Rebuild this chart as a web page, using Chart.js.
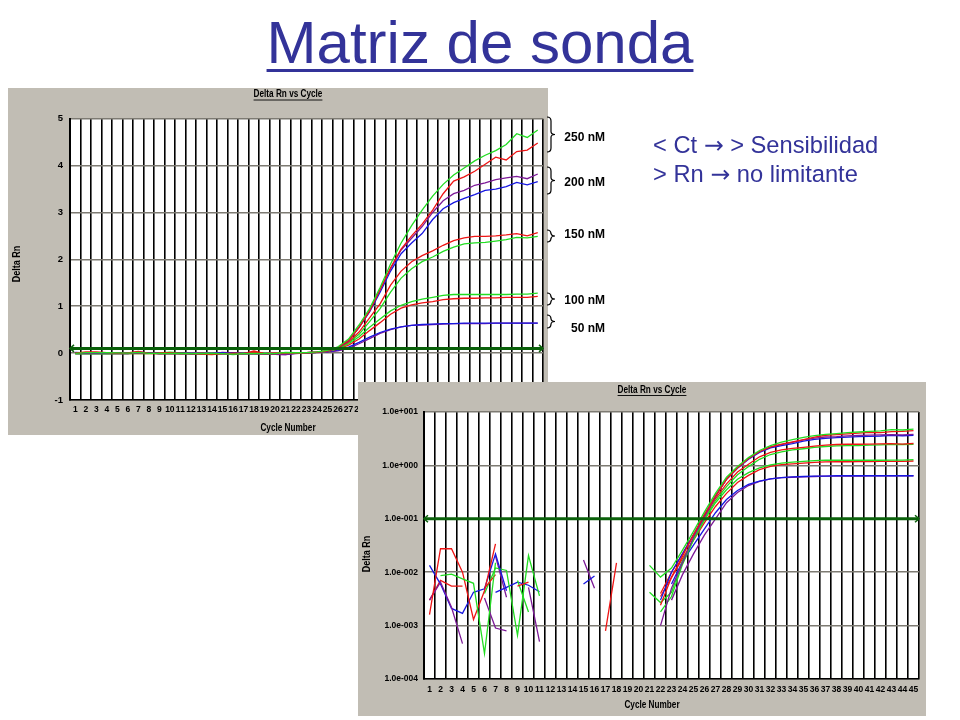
<!DOCTYPE html>
<html>
<head>
<meta charset="utf-8">
<title>Matriz de sonda</title>
<script src="https://cdn.jsdelivr.net/npm/chart.js@4.4.1/dist/chart.umd.min.js"></script>
<style>
  html, body { margin: 0; padding: 0; background: #fff; }
  #slide { position: relative; width: 960px; height: 720px; overflow: hidden; font-family: 'Liberation Sans', Arial, sans-serif; }
  h1 { position: absolute; left: 0; top: 13px; width: 960px; margin: 0; text-align: center;
       font-size: 60px; line-height: 60px; font-weight: normal; color: #333399;
       text-decoration: underline; text-decoration-thickness: 3px; text-underline-offset: 6px; }
  .panel { position: absolute; background: #c1bdb4; }
  .panel canvas { display: block; }
  .note { position: absolute; left: 653px; top: 131px; font-size: 23.7px; line-height: 29px; color: #333399; white-space: nowrap; }
  .note .arr { font-family: 'DejaVu Sans', sans-serif; }
  .conc { position: absolute; left: 545px; width: 60px; text-align: right; font: bold 12px 'Liberation Sans', Arial, sans-serif; line-height: 14px; color: #000; }
  #braces { position: absolute; left: 0; top: 0; }
</style>
</head>
<body>
<div id="slide">
  <h1>Matriz de sonda</h1>

  <div class="panel" style="left:8px; top:88px; width:540px; height:347px;">
    <canvas id="linChart" width="540" height="347"></canvas>
  </div>

  <svg id="braces" width="960" height="400"></svg>
  <div id="concLabels"></div>

  <div class="note">&lt; Ct <span class="arr">&rarr;</span> &gt; Sensibilidad<br>&gt; Rn <span class="arr">&rarr;</span> no limitante</div>

  <div class="panel" style="left:358px; top:382px; width:568px; height:334px;">
    <canvas id="logChart" width="568" height="334"></canvas>
  </div>
</div>

<script>
// ciclos (eje X)
const cycles = ['1','2','3','4','5','6','7','8','9','10','11','12','13','14','15','16','17','18','19','20',
  '21','22','23','24','25','26','27','28','29','30','31','32','33','34','35','36','37','38','39','40',
  '41','42','43','44','45'];

// Delta Rn por ciclo, dos réplicas por concentración de sonda
const green250 = [-0.006, 0.0086, 0.0092, 0.0075, 0.0062, 0.0003, 0.015, -0.004, -0.008, -0.01,
  -0.006, -0.01, -0.012, -0.008, -0.01, -0.02, -0.012, -0.008, -0.01, -0.012,
  0.0134, 0.0081, 0.012, 0.026, 0.058, 0.135, 0.3, 0.6, 0.95, 1.4,
  1.9, 2.35, 2.72, 3.05, 3.35, 3.6, 3.8, 3.95, 4.1, 4.22,
  4.32, 4.45, 4.68, 4.6, 4.76];
const red250 = [0.0016, 0.0275, 0.0275, 0.01, 0.0013, 0.0045, 0.034, -0.005, -0.008, -0.01,
  -0.006, -0.012, -0.02, -0.03, -0.01, -0.008, -0.01, -0.006, -0.01, -0.008,
  -0.006, 0.0024, 0.008, 0.02, 0.05, 0.12, 0.27, 0.55, 0.9, 1.35,
  1.82, 2.22, 2.5, 2.75, 3.05, 3.4, 3.67, 3.76, 3.88, 4.03,
  4.18, 4.12, 4.3, 4.33, 4.48];
const purple200 = [0.003, 0.0065, 0.0022, 0.00046, -0.004, 0.0033, 0.0009, 0.0008, -0.008, -0.01,
  -0.006, -0.008, -0.01, -0.012, -0.01, -0.008, -0.01, -0.012, -0.02, -0.025,
  -0.03, 0.001, 0.005, 0.015, 0.045, 0.11, 0.26, 0.55, 0.9, 1.35,
  1.8, 2.2, 2.45, 2.7, 3.0, 3.25, 3.4, 3.47, 3.58, 3.63,
  3.7, 3.74, 3.77, 3.72, 3.82];
const blue200 = [0.0134, 0.006, 0.0021, 0.0017, 0.0042, 0.0049, 0.022, 0.0045, -0.008, -0.01,
  -0.006, -0.008, -0.01, -0.008, -0.012, -0.01, -0.008, -0.01, -0.012, -0.01,
  -0.008, 0.003, 0.01, 0.022, 0.05, 0.12, 0.27, 0.55, 0.88, 1.3,
  1.75, 2.12, 2.35, 2.55, 2.85, 3.08, 3.21, 3.3, 3.38, 3.47,
  3.5, 3.55, 3.64, 3.59, 3.66];
const red150 = [0.003, 0.007, 0.0055, 0.0055, -0.004, 0.005, 0.009, -0.006, 0.0055, 0.0065,
  -0.008, -0.01, -0.008, -0.012, -0.01, -0.008, -0.01, 0.045, -0.01, -0.008,
  -0.006, 0.004, 0.01, 0.022, 0.05, 0.11, 0.24, 0.45, 0.75, 1.05,
  1.45, 1.75, 1.95, 2.08, 2.18, 2.3, 2.4, 2.46, 2.49, 2.49,
  2.5, 2.52, 2.55, 2.5, 2.57];
const green150 = [-0.01, -0.008, -0.005, -0.012, -0.006, 0.004, 0.012, 0.0108, 0.00066, 0.0205,
  0.0036, -0.008, -0.01, -0.012, -0.01, -0.03, -0.015, -0.01, -0.008, -0.012,
  0.0042, 0.0027, 0.0042, 0.016, 0.042, 0.1, 0.22, 0.4, 0.67, 0.95,
  1.3, 1.6, 1.8, 1.95, 2.05, 2.17, 2.26, 2.33, 2.35, 2.36,
  2.39, 2.42, 2.47, 2.46, 2.49];
const green100 = [-0.012, -0.01, -0.008, -0.006, -0.01, -0.008, -0.012, -0.01, 0.007, 0.0018,
  -0.01, -0.012, -0.008, -0.01, -0.01, -0.012, -0.008, -0.01, -0.012, -0.01,
  -0.005, 0.0018, 0.0035, 0.014, 0.04, 0.095, 0.2, 0.35, 0.55, 0.73,
  0.9, 1.02, 1.1, 1.15, 1.19, 1.23, 1.25, 1.25, 1.25, 1.25,
  1.25, 1.25, 1.26, 1.26, 1.28];
const red100 = [-0.01, -0.008, -0.012, -0.006, -0.01, -0.008, -0.01, -0.006, -0.01, -0.012,
  -0.008, -0.01, -0.012, -0.02, -0.01, -0.008, 0.0008, 0.015, -0.01, -0.006,
  -0.008, 0.0035, 0.008, 0.018, 0.04, 0.085, 0.17, 0.3, 0.48, 0.65,
  0.83, 0.96, 1.03, 1.07, 1.1, 1.14, 1.16, 1.17, 1.17, 1.18,
  1.18, 1.19, 1.19, 1.19, 1.21];
const blue50 = [-0.008, -0.01, -0.006, -0.01, -0.012, -0.008, 0.0042, 0.0052, 0.0065, 0.0057,
  0.0043, -0.01, -0.008, -0.012, 0.006, 0.0085, -0.01, -0.008, -0.012, -0.015,
  -0.01, -0.004, 0.006, 0.016, 0.032, 0.065, 0.13, 0.23, 0.34, 0.44,
  0.51, 0.56, 0.59, 0.61, 0.62, 0.63, 0.63, 0.64, 0.64, 0.64,
  0.64, 0.64, 0.64, 0.64, 0.64];
const purple50 = [-0.01, -0.008, -0.012, -0.006, -0.01, -0.008, 0.02, 0.0034, -0.008, 0.0052,
  0.0005, -0.01, -0.008, -0.012, 0.017, 0.005, -0.01, -0.008, -0.02, -0.025,
  -0.03, -0.01, 0.003, 0.009, 0.022, 0.05, 0.1, 0.2, 0.31, 0.42,
  0.5, 0.56, 0.59, 0.6, 0.61, 0.62, 0.63, 0.63, 0.63, 0.63,
  0.64, 0.64, 0.64, 0.64, 0.64];

// umbral
const threshold = 0.1;

// etiquetas de los ejes Y
const linTickLabels = ['-1', '0', '1', '2', '3', '4', '5'];
const logTickValues = [1e-4, 1e-3, 1e-2, 1e-1, 1e0, 1e1];
const logTickLabels = ['1.0e-004', '1.0e-003', '1.0e-002', '1.0e-001', '1.0e+000', '1.0e+001'];

// concentraciones de sonda
const concLabels = ['250 nM', '200 nM', '150 nM', '100 nM', '50 nM'];

const GREEN = '#22dd22', RED = '#ee1515', PURPLE = '#7d1a98', BLUE = '#1717e0';
const series = [
  { data: green250, color: GREEN }, { data: red250, color: RED },
  { data: purple200, color: PURPLE }, { data: blue200, color: BLUE },
  { data: red150, color: RED }, { data: green150, color: GREEN },
  { data: green100, color: GREEN }, { data: red100, color: RED },
  { data: blue50, color: BLUE }, { data: purple50, color: PURPLE }
];

const SANS = "'Liberation Sans', Arial, sans-serif";

// texto "estrecho": Liberation Sans Bold comprimida en horizontal
function narrowText(ctx, text, x, y, size, underline) {
  ctx.save();
  ctx.font = 'bold ' + size + 'px ' + SANS;
  ctx.translate(x, y);
  ctx.scale(0.82, 1);
  ctx.fillText(text, 0, 0);
  if (underline) {
    const w = ctx.measureText(text).width;
    ctx.lineWidth = 1;
    ctx.beginPath();
    ctx.moveTo(-w / 2, 5.5);
    ctx.lineTo(w / 2, 5.5);
    ctx.stroke();
  }
  ctx.restore();
}

// fondo blanco, umbral y textos del panel
const panelDecor = {
  id: 'panelDecor',
  beforeDraw(chart) {
    const { ctx, chartArea: a } = chart;
    ctx.save();
    ctx.fillStyle = '#fff';
    ctx.fillRect(a.left, a.top, a.right - a.left, a.bottom - a.top);
    ctx.restore();
  },
  afterDatasetsDraw(chart, args, opts) {
    const { ctx, chartArea: a, scales } = chart;
    const y = scales.y.getPixelForValue(opts.threshold);
    ctx.save();
    ctx.strokeStyle = '#0a600a';
    ctx.lineWidth = 3;
    ctx.beginPath();
    ctx.moveTo(a.left, y);
    ctx.lineTo(a.right, y);
    ctx.stroke();
    ctx.lineWidth = 1.5;
    ctx.beginPath();
    ctx.moveTo(a.left + 4, y - 3.5); ctx.lineTo(a.left, y); ctx.lineTo(a.left + 4, y + 3.5);
    ctx.moveTo(a.right - 4, y - 3.5); ctx.lineTo(a.right, y); ctx.lineTo(a.right - 4, y + 3.5);
    ctx.stroke();
    ctx.restore();
  },
  afterDraw(chart, args, opts) {
    const ctx = chart.ctx;
    ctx.save();
    ctx.fillStyle = '#000';
    ctx.strokeStyle = '#000';
    ctx.textAlign = 'center';
    ctx.textBaseline = 'middle';
    narrowText(ctx, 'Delta Rn vs Cycle', opts.title[0], opts.title[1], 10, true);
    narrowText(ctx, 'Cycle Number', opts.xTitle[0], opts.xTitle[1], 10, false);
    ctx.translate(opts.yTitle[0], opts.yTitle[1]);
    ctx.rotate(-Math.PI / 2);
    narrowText(ctx, 'Delta Rn', 0, 0, 11, false);
    ctx.restore();
  }
};

function makeChart(canvasId, yScale, box, decor) {
  const canvas = document.getElementById(canvasId);
  return new Chart(canvas, {
    type: 'line',
    data: {
      labels: cycles,
      datasets: series.map(s => ({
        data: s.data,
        borderColor: s.color,
        borderWidth: 1.3,
        pointRadius: 0,
        tension: 0,
        spanGaps: false
      }))
    },
    options: {
      responsive: false,
      animation: false,
      events: [],
      layout: { padding: { left: 0, top: box.top, right: box.right, bottom: 0 } },
      plugins: {
        legend: { display: false },
        tooltip: { enabled: false },
        panelDecor: decor
      },
      scales: {
        x: {
          type: 'category',
          offset: true,
          grid: { offset: true, color: '#000', lineWidth: 1.6, drawTicks: false },
          border: { color: '#000', width: 1.5 },
          ticks: {
            autoSkip: false, maxRotation: 0, minRotation: 0, padding: box.xPad,
            font: { family: SANS, size: 8.5, weight: 'bold' }, color: '#000'
          },
          afterFit: s => { s.height = box.bottom; }
        },
        y: Object.assign({
          grid: { color: '#7d7a72', lineWidth: 1.5, drawTicks: false },
          border: { color: '#000', width: 2 },
          afterFit: s => { s.width = box.left; }
        }, yScale)
      }
    },
    plugins: [panelDecor]
  });
}

// gráfico lineal (arriba)
makeChart('linChart', {
  type: 'linear', min: -1, max: 5,
  ticks: {
    stepSize: 1, padding: 7, color: '#000',
    font: { family: SANS, size: 9.5, weight: 'bold' },
    callback: (v, i) => linTickLabels[i]
  }
}, { left: 62, top: 30.7, right: 5, bottom: 35, xPad: 5 },
{ threshold: threshold, title: [280, 6.5], xTitle: [280, 340], yTitle: [8.5, 176] });

// gráfico logarítmico (abajo)
makeChart('logChart', {
  type: 'logarithmic', min: 1e-4, max: 10,
  afterBuildTicks: s => { s.ticks = logTickValues.map(v => ({ value: v })); },
  ticks: {
    padding: 6, color: '#000',
    font: { family: SANS, size: 8.5, weight: 'bold' },
    callback: (v, i) => logTickLabels[i]
  }
}, { left: 66, top: 30, right: 7, bottom: 37, xPad: 6 },
{ threshold: threshold, title: [294, 8], xTitle: [294, 323], yTitle: [8.5, 172] });

// llaves y etiquetas de concentración
const braceSpans = [[117, 152], [167, 194], [230, 242], [293, 305], [315, 328]];
const labelY = [137, 182, 234, 300, 328];
const svg = document.getElementById('braces');
let paths = '';
braceSpans.forEach(([y0, y1]) => {
  const x0 = 547, x1 = 551, x2 = 555, ym = (y0 + y1) / 2;
  paths += `<path d="M${x0} ${y0} Q${x1} ${y0} ${x1} ${y0 + 4} L${x1} ${ym - 3} Q${x1} ${ym} ${x2} ${ym} ` +
    `Q${x1} ${ym} ${x1} ${ym + 3} L${x1} ${y1 - 4} Q${x1} ${y1} ${x0} ${y1}" fill="none" stroke="#000" stroke-width="1.2"/>`;
});
svg.innerHTML = paths;
const holder = document.getElementById('concLabels');
concLabels.forEach((t, i) => {
  const d = document.createElement('div');
  d.className = 'conc';
  d.style.top = (labelY[i] - 7) + 'px';
  d.textContent = t;
  holder.appendChild(d);
});
</script>
</body>
</html>
